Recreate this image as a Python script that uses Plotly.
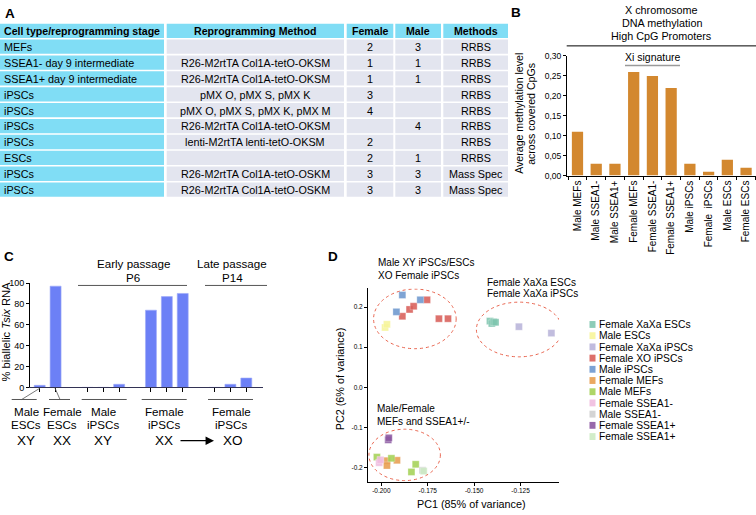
import plotly.graph_objects as go

FONT = "Liberation Sans, Arial, Helvetica, sans-serif"
W, H = 756, 515

# ---------------- Panel A data (table) ----------------
col_headers = ["Cell type/reprogramming stage", "Reprogramming Method", "Female", "Male", "Methods"]
stages = ["MEFs", "SSEA1- day 9 intermediate", "SSEA1+ day 9 intermediate", "iPSCs", "iPSCs",
          "iPSCs", "iPSCs", "ESCs", "iPSCs", "iPSCs"]
methods = ["", "R26-M2rtTA Col1A-tetO-OKSM", "R26-M2rtTA Col1A-tetO-OKSM", "pMX O, pMX S, pMX K",
           "pMX O, pMX S, pMX K, pMX M", "R26-M2rtTA Col1A-tetO-OKSM", "lenti-M2rtTA lenti-tetO-OKSM",
           "", "R26-M2rtTA Col1A-tetO-OSKM", "R26-M2rtTA Col1A-tetO-OSKM"]
female_n = ["2", "1", "1", "3", "4", "", "2", "2", "3", "3"]
male_n = ["3", "1", "1", "", "", "4", "", "1", "3", "3"]
assays = ["RRBS"] * 8 + ["Mass Spec"] * 2

# ---------------- Panel B data ----------------
b_samples = ["Male MEFs", "Male SSEA1-", "Male SSEA1+", "Female MEFs", "Female SSEA1-",
             "Female SSEA1+", "Male iPSCs", "Female  iPSCs", "Male ESCs", "Female ESCs"]
b_methylation = [0.11, 0.03, 0.03, 0.26, 0.25, 0.22, 0.03, 0.01, 0.04, 0.02]
b_ticks = [0.00, 0.05, 0.10, 0.15, 0.20, 0.25, 0.30]

# ---------------- Panel C data ----------------
c_groups = [["Male ESC"], ["Female ESC"], ["Male iPSC 1", "Male iPSC 2", "Male iPSC 3"],
            ["Female iPSC P6 1", "Female iPSC P6 2", "Female iPSC P6 3"],
            ["Female iPSC P14 1", "Female iPSC P14 2", "Female iPSC P14 3"]]
c_values = [[2], [97], [0, 0, 3], [74, 87, 90], [0, 3, 9]]

# ---------------- Panel D data ----------------
d_names = ["Female XaXa ESCs", "Male ESCs", "Female XaXa iPSCs", "Female XO iPSCs", "Male iPSCs",
           "Female MEFs", "Male MEFs", "Female SSEA1-", "Male SSEA1-", "Female SSEA1+", "Female SSEA1+ "]
d_colors = ["#7FC6AF", "#F7F59A", "#B9B4DA", "#D95F5A", "#6E98CF", "#E89E50", "#A5D257",
            "#F0BCDF", "#CFCFCF", "#8C58A2", "#CDEBC4"]
d_pc1 = [[-0.1415, -0.1405, -0.1395, -0.1385],
         [-0.1980, -0.1970],
         [-0.1259, -0.1084],
         [-0.1887, -0.1848, -0.1826, -0.1754, -0.1690, -0.1641],
         [-0.1887, -0.1919, -0.1790],
         [-0.1970, -0.1970, -0.1916],
         [-0.2024, -0.1946, -0.1815, -0.1838],
         [-0.2012, -0.2005],
         [-0.1778],
         [-0.1963, -0.1960],
         [-0.1772]]
d_pc2 = [[0.165, 0.159, 0.163, 0.162],
         [0.149, 0.157],
         [0.151, 0.135],
         [0.177, 0.194, 0.202, 0.218, 0.171, 0.171],
         [0.230, 0.188, 0.218],
         [-0.183, -0.195, -0.182],
         [-0.174, -0.177, -0.192, -0.211],
         [-0.188, -0.181],
         [-0.207],
         [-0.131, -0.126],
         [-0.209]]
d_xticks = [-0.200, -0.175, -0.150, -0.125]
d_yticks = [-0.2, -0.1, 0.0, 0.1, 0.2]


def X(p):
    return p / W


def Y(p):
    return 1 - p / H


annotations = []
shapes = []


def text(x, y, s, size, xanchor="center", angle=0, color="black", bold=False):
    if bold:
        s = "<b>" + s + "</b>"
    annotations.append(dict(x=X(x), y=Y(y), xref="paper", yref="paper", text=s, showarrow=False,
                            font=dict(size=size, family=FONT, color=color), xanchor=xanchor,
                            yanchor="middle", textangle=angle, borderpad=0))


def line(x0, y0, x1, y1, color="black", width=1, dash="solid"):
    shapes.append(dict(type="line", xref="paper", yref="paper", x0=X(x0), y0=Y(y0), x1=X(x1), y1=Y(y1),
                       line=dict(color=color, width=width, dash=dash)))


def rect(x0, y0, x1, y1, color):
    shapes.append(dict(type="rect", xref="paper", yref="paper", x0=X(x0), y0=Y(y0), x1=X(x1), y1=Y(y1),
                       line=dict(width=0), fillcolor=color, layer="below"))


fig = go.Figure()

# ================= Panel A: table =================
CYAN = "#80DDF5"
GREY = "#E3E5EF"
col_edges = [(0, 164), (166.7, 344), (346.7, 393.3), (395.3, 441), (443.3, 508)]
row_top0, row_pitch, row_h = 19, 16.2, 14.6
columns = [stages, methods, female_n, male_n, assays]
TF = 10.8
for ci, (x0, x1) in enumerate(col_edges):
    rect(x0, row_top0, x1, row_top0 + row_h, CYAN)
    if ci == 0:
        text(x0 + 2.5, row_top0 + row_h / 2 + 0.3, col_headers[ci], 10.6, xanchor="left", bold=True)
    else:
        text((x0 + x1) / 2, row_top0 + row_h / 2 + 0.3, col_headers[ci], 10.6, bold=True)
    for ri, val in enumerate(columns[ci]):
        top = row_top0 + (ri + 1) * row_pitch
        rect(x0, top, x1, top + row_h, CYAN if ci == 0 else GREY)
        if val:
            if ci == 0:
                text(x0 + 2.5, top + row_h / 2 + 0.3, val, TF, xanchor="left")
            else:
                text((x0 + x1) / 2, top + row_h / 2 + 0.3, val, TF)
text(4, 8.5, "A", 13.5, xanchor="left", bold=True)

# ================= Panel B =================
fig.add_trace(go.Bar(x=b_samples, y=b_methylation, marker=dict(color="#D3882F", line=dict(width=0)),
                     xaxis="x", yaxis="y", width=0.6, hoverinfo="x+y"))
text(516, 7.5, "B", 13.5, bold=True)
text(661.5, 5.5, "X chromosome", 10.8)
text(661.5, 18.5, "DNA methylation", 10.8)
text(661.5, 31.5, "High CpG Promoters", 10.8)
line(566.7, 41.7, 756, 41.7, width=1)
text(652.7, 53.3, "Xi signature", 10.5)
line(625, 61.7, 680, 61.7, color="#9A9A9A", width=1.6)
text(519, 111, "Average methylation level", 10.6, angle=-90)
text(531, 111, "across covered CpGs", 10.6, angle=-90)

# ================= Panel C =================
c_cats, c_vals, c_bar_cats = [], [], []
for gi, (grp, vals) in enumerate(zip(c_groups, c_values)):
    if gi >= 2:
        c_cats.append(" " * gi)
        c_vals.append(None)
    c_cats.extend(grp)
    c_vals.extend(vals)
    c_bar_cats.extend(grp)
fig.add_trace(go.Bar(x=c_cats, y=c_vals, marker=dict(color="#6C80F6", line=dict(color="#9DAAF8", width=0.6)),
                     xaxis="x2", yaxis="y2", width=0.69, hoverinfo="y"))
text(3, 256, "C", 13.5, xanchor="left", bold=True)
text(6, 333, "% biallelic <i>Tsix</i> RNA", 11.2, angle=-90)
text(133, 264, "Early passage", 11.6)
text(133, 277.5, "P6", 11.6)
line(78, 286, 187, 286, color="#555555", width=1)
text(232, 264, "Late passage", 11.6)
text(232, 277.5, "P14", 11.6)
line(205, 286, 267, 286, color="#555555", width=1)
# group underlines and labels
group_spans = [(11.7, 36.7), (49, 70), (81.7, 126.7), (141.7, 186.7), (208, 253)]
group_top = ["Male", "Female", "Male", "Female", "Female"]
group_bot = ["ESCs", "ESCs", "iPSCs", "iPSCs", "iPSCs"]
label_x = [26, 62, 103, 164, 231]
for (a, b), t1, t2, lx in zip(group_spans, group_top, group_bot, label_x):
    line(a, 402.3, b, 402.3, color="#555555", width=1)
    text(lx, 414.5, t1, 11.6)
    text(lx, 427.8, t2, 11.6)
line(40, 390.7, 21.7, 402.3, color="#555555", width=0.8)
line(55, 390.7, 60, 402.3, color="#555555", width=0.8)
for lx, k in zip([26, 62, 103, 164, 233], ["XY", "XX", "XY", "XX", "XO"]):
    text(lx, 444.5, k, 13.5)
annotations.append(dict(x=X(214), y=Y(444.3), xref="paper", yref="paper", ax=-35, ay=0, text="",
                        showarrow=True, arrowhead=2, arrowsize=1.3, arrowwidth=1.3, arrowcolor="black",
                        standoff=0, startstandoff=0))

# ================= Panel D =================
for name, col, xs, ys in zip(d_names, d_colors, d_pc1, d_pc2):
    fig.add_trace(go.Scatter(x=xs, y=ys, mode="markers", name=name, xaxis="x3", yaxis="y3",
                             marker=dict(symbol="square", size=7, color=col, opacity=0.88,
                                         line=dict(width=0.6, color="rgba(255,255,255,0.5)"))))
ell = dict(type="circle", xref="x3", yref="y3", line=dict(color="#E8644E", width=1, dash="dot"))
shapes.append(dict(ell, x0=-0.2042, x1=-0.1597, y0=0.0962, y1=0.2448))
shapes.append(dict(ell, x0=-0.1488, x1=-0.1027, y0=0.0759, y1=0.2122))
shapes.append(dict(ell, x0=-0.2067, x1=-0.1682, y0=-0.2326, y1=-0.1045))
text(333.3, 256, "D", 13.5, bold=True)
text(377, 262.7, "Male XY iPSCs/ESCs", 10, xanchor="left")
text(377, 276, "XO Female iPSCs", 10, xanchor="left")
text(486, 282.7, "Female XaXa ESCs", 10, xanchor="left")
text(486, 294.3, "Female XaXa iPSCs", 10, xanchor="left")
text(375.7, 411.7, "Male/Female", 10, xanchor="left")
text(375.7, 424.5, "MEFs and SSEA1+/-", 10, xanchor="left")
text(340, 381.7, "PC2 (6% of variance)", 10.8, angle=-90)
text(471.7, 508.5, "PC1 (85% of variance)", 10.8)
# manual compact legend
for i, (name, col) in enumerate(zip(d_names, d_colors)):
    yc = 326 + i * 11.43
    shapes.append(dict(type="rect", xref="paper", yref="paper", x0=X(589.5), x1=X(595.5),
                       y0=Y(yc + 3.3), y1=Y(yc - 3.7), fillcolor=col, opacity=0.9, line=dict(width=0)))
    text(597.5, yc, name.strip(), 10.3, xanchor="left")

axis_common = dict(showline=True, linecolor="black", linewidth=1, showgrid=False, zeroline=False,
                   ticks="outside", tickcolor="black", ticklen=3, tickwidth=1)

fig.update_layout(
    width=W, height=H, margin=dict(l=0, r=0, t=0, b=0), paper_bgcolor="white", plot_bgcolor="white",
    showlegend=False, bargap=0.4, font=dict(family=FONT, color="black"),
    xaxis=dict(axis_common, domain=[X(567), 1.0], anchor="y", type="category", range=[-0.56, 9.53],
               tickson="boundaries", tickangle=-90, tickfont=dict(size=10, family=FONT)),
    yaxis=dict(axis_common, domain=[Y(174), Y(52)], anchor="x", range=[0, 0.30],
               tickvals=b_ticks, ticktext=[f"{v:.2f}".replace(".", ",") for v in b_ticks],
               tickfont=dict(size=8.5, family=FONT)),
    xaxis2=dict(axis_common, domain=[X(30), X(263)], anchor="y2", type="category", range=[-0.61, 14.05],
                tickvals=c_bar_cats, ticktext=["" for _ in c_bar_cats], ticklen=4,
                linecolor="#333355"),
    yaxis2=dict(axis_common, domain=[Y(390), Y(283)], anchor="x2", range=[0, 100.5], dtick=20,
                tickfont=dict(size=9, family=FONT)),
    xaxis3=dict(axis_common, domain=[X(368), X(559)], anchor="y3", range=[-0.2072, -0.1043],
                tickvals=d_xticks, ticktext=[f"{v:.3f}" for v in d_xticks], tickfont=dict(size=6.5, family=FONT)),
    yaxis3=dict(axis_common, domain=[Y(486), Y(289)], anchor="x3", range=[-0.235, 0.2465],
                tickvals=d_yticks, ticktext=[f"{v:.1f}" for v in d_yticks], tickfont=dict(size=6.5, family=FONT)),
    annotations=annotations, shapes=shapes,
)
fig.write_html("out.html", config={"displayModeBar": False},
               post_script="document.body.style.margin='0';document.body.style.overflow='hidden';")
